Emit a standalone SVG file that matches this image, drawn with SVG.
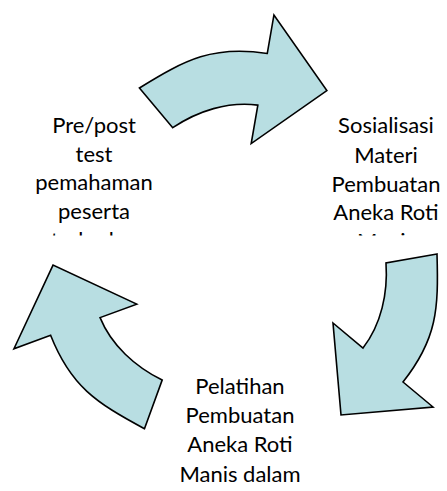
<svg xmlns="http://www.w3.org/2000/svg" xmlns:xlink="http://www.w3.org/1999/xlink" width="447" height="491" viewBox="0 0 447 491">
  <style>
    .arrow { fill: #B8DEE2; stroke: #000; stroke-width: 1.6; stroke-linejoin: miter; }
    .lbl { font-family: Lato, "Liberation Sans", sans-serif; font-size: 22px; fill: #000; text-anchor: middle; }
  </style>
  <defs>
    <path id="cyc-arrow" class="arrow" d="M 437 254 L 386 263 C 388 293 381.3 324.3 363 348 L 333 323 L 341 415 L 433 407 L 403 382 C 437.1 339.1 438.65 309 437 254 Z"/>
    <clipPath id="clipTop">
      <rect x="0" y="0" width="447" height="235.5"/>
    </clipPath>
  </defs>
  <rect width="447" height="491" fill="#fff"/>
  <g id="connectors">
    <use xlink:href="#cyc-arrow" href="#cyc-arrow" transform="rotate(-120 240.3 256.9)"/>
    <use xlink:href="#cyc-arrow" href="#cyc-arrow"/>
    <use xlink:href="#cyc-arrow" href="#cyc-arrow" transform="rotate(120 240.3 256.9)"/>
  </g>
  <g id="node-sosialisasi" clip-path="url(#clipTop)">
    <text class="lbl" x="386" y="133.3">Sosialisasi</text>
    <text class="lbl" x="386" y="162.5">Materi</text>
    <text class="lbl" x="386" y="191.5">Pembuatan</text>
    <text class="lbl" x="386" y="220.3">Aneka Roti</text>
    <text class="lbl" x="386" y="249.3">Manis</text>
  </g>
  <g id="node-pelatihan">
    <text class="lbl" x="240" y="394.3">Pelatihan</text>
    <text class="lbl" x="240" y="423.3">Pembuatan</text>
    <text class="lbl" x="240" y="452.3">Aneka Roti</text>
    <text class="lbl" x="240" y="481.5">Manis dalam</text>
  </g>
  <g id="node-prepost" clip-path="url(#clipTop)">
    <text class="lbl" x="94" y="132.7">Pre/post</text>
    <text class="lbl" x="94" y="161.7">test</text>
    <text class="lbl" x="94" y="190.3">pemahaman</text>
    <text class="lbl" x="94" y="218.8">peserta</text>
    <text class="lbl" x="94" y="247.8">terhadap</text>
  </g>
</svg>
